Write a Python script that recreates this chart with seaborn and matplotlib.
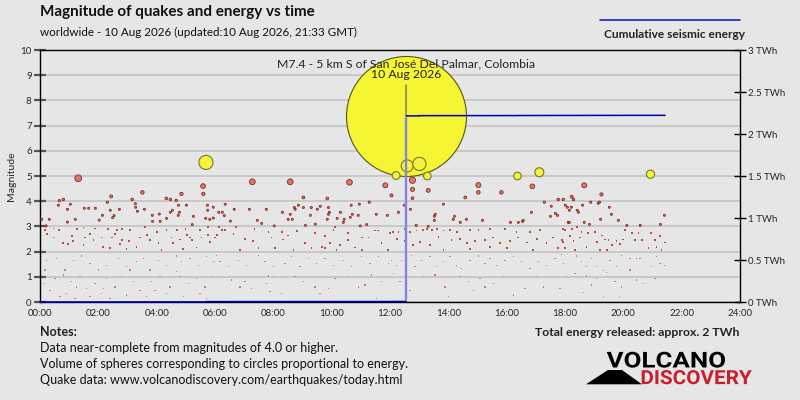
import numpy as np
import matplotlib
matplotlib.use("Agg")
import matplotlib.pyplot as plt
import seaborn as sns
from matplotlib.lines import Line2D
from matplotlib.patches import Polygon, PathPatch
from matplotlib.textpath import TextPath
from matplotlib.font_manager import FontProperties
from matplotlib.transforms import Affine2D, IdentityTransform

# strongest quake of the day
main_hour = 12.55
main_mag = 7.4
main_label = "M7.4 - 5 km S of San José Del Palmar, Colombia\n10 Aug 2026"

# M5+ quakes (yellow circles)
strong_hours = [5.69, 12.59, 13.01, 12.21, 13.28, 16.37, 17.12, 20.93]
strong_mags = [5.54, 5.40, 5.48, 5.02, 5.00, 5.00, 5.15, 5.07]

# M3 - M5 quakes (red circles)
mid_hours = [
    1.31, 5.59, 5.60, 3.51, 2.44, 4.85, 0.66, 0.80, 0.63, 1.04, 0.94, 2.31, 3.16, 3.27,
    3.28, 3.34, 1.52, 1.67, 1.90, 2.41, 2.72, 2.54, 2.49, 2.14, 2.03, 1.21, 0.94, 3.58,
    4.33, 4.47, 4.67, 4.75, 5.02, 4.54, 4.47, 4.78, 4.74, 3.85, 4.09, 4.34, 3.86, 4.12,
    5.26, 5.22, 5.74, 5.75, 5.94, 6.13, 5.68, 5.82, 5.94, 0.06, 0.32, 0.21,
    7.28, 8.58, 10.61, 11.84, 12.05, 9.03, 9.85, 6.35, 6.66, 7.18, 7.76, 6.25, 6.32,
    6.53, 7.45, 7.60, 8.31, 8.58, 8.51, 8.65, 8.72, 8.75, 8.86, 9.03, 9.30, 9.51, 9.61,
    9.89, 9.92, 9.89, 9.27, 9.85, 10.30, 10.19, 10.43, 10.40, 10.64, 10.71, 10.91,
    10.67, 10.95, 11.29, 11.53, 11.91, 8.03, 9.10, 9.44, 10.98, 11.20,
    12.77, 12.77, 12.77, 13.31, 15.03, 15.03, 15.82, 16.88, 14.58, 12.49, 13.83, 12.29,
    12.70, 17.29, 17.53, 17.77, 17.94, 18.01, 18.08, 17.67, 17.74, 17.50, 16.85, 13.55,
    13.52, 14.21, 13.52, 14.17, 14.62, 14.41, 15.17, 16.13, 16.40, 16.54, 16.57, 18.11,
    12.90, 13.31,
    18.66, 19.25, 18.23, 18.29, 18.60, 18.88, 19.18, 19.14, 18.22, 18.15, 18.42, 18.46,
    19.52, 19.59, 21.41, 19.22, 19.83, 20.12, 20.58, 21.27, 18.66, 18.84, 18.15,
]
mid_mags = [
    4.91, 4.60, 4.29, 4.35, 4.19, 4.29, 4.02, 4.07, 3.84, 3.88, 3.68, 3.96, 4.07, 3.90,
    3.76, 3.60, 3.72, 3.72, 3.72, 3.64, 3.68, 3.43, 3.35, 3.44, 3.25, 3.28, 3.17, 3.68,
    4.11, 4.07, 4.03, 3.84, 3.84, 3.64, 3.56, 3.56, 3.44, 3.44, 3.49, 3.32, 3.20, 3.20,
    3.40, 3.07, 3.84, 3.64, 3.76, 3.56, 3.32, 3.28, 3.33, 3.28, 3.28, 3.02,
    4.77, 4.77, 4.75, 4.63, 4.23, 4.15, 4.11, 3.88, 3.68, 3.68, 3.68, 3.56, 3.43,
    3.21, 3.24, 3.12, 3.56, 3.48, 3.28, 3.28, 3.75, 3.68, 3.84, 3.75, 3.75, 3.68, 3.80,
    3.75, 3.56, 3.48, 3.44, 3.28, 3.56, 3.32, 3.28, 3.16, 3.36, 3.48, 3.44,
    3.84, 3.88, 3.96, 3.48, 3.44, 3.02, 3.04, 3.09, 3.02, 3.07,
    4.83, 4.47, 4.12, 4.43, 4.64, 4.35, 4.35, 4.59, 4.15, 3.84, 3.88, 3.56,
    3.68, 3.96, 3.80, 4.07, 4.07, 3.84, 3.76, 3.52, 3.44, 3.40, 3.56, 3.48,
    3.40, 3.40, 3.24, 3.28, 3.28, 3.16, 3.24, 3.16, 3.16, 3.20, 3.24, 3.16,
    3.04, 3.00,
    4.63, 4.27, 4.18, 4.07, 3.84, 3.96, 3.96, 3.92, 3.76, 3.64, 3.64, 3.56,
    3.76, 3.48, 3.44, 3.28, 3.24, 3.04, 3.04, 3.08, 3.16, 3.08, 3.16,
]

# quakes below M3 (small dots)
small_hours = [
    0.17, 0.46, 0.66, 1.28, 1.49, 1.89, 2.34, 2.65, 2.80, 3.09, 3.60, 4.00, 4.34, 4.69,
    4.99, 5.49, 5.77, 1.54, 1.83, 2.11, 2.46, 2.80, 3.06, 3.43, 3.77, 4.06, 4.51, 4.80,
    5.14, 5.54, 5.83, 0.80, 1.14, 1.49, 2.17, 2.40, 2.97, 3.31, 4.17, 4.91, 5.20, 5.37,
    6.00, 0.46, 0.97, 2.74, 4.57, 0.23, 1.09, 1.71, 2.57, 3.66, 5.03, 5.77,
    0.06, 0.23, 0.57, 0.86, 1.14, 1.43, 1.71, 2.00, 2.29, 2.69, 2.97, 3.31, 3.54, 3.77,
    4.06, 4.34, 4.69, 4.86, 5.14, 5.43, 5.71, 5.94, 0.17, 0.51, 0.80, 1.09, 1.37, 1.60,
    1.89, 2.29, 2.57, 2.80, 3.20, 3.43, 3.83, 4.11, 4.46, 4.80, 5.09, 5.37, 5.66, 5.89,
    0.34, 0.69, 0.91, 1.20, 1.71, 2.11, 2.40, 2.97, 3.66, 4.34, 4.91, 5.71, 0.11, 1.26,
    2.17, 3.09, 3.94, 4.69, 5.49,
    6.14, 6.25, 6.34, 6.71, 7.35, 7.83, 8.29, 8.51, 8.80, 9.43, 9.77, 10.06, 10.11,
    10.57, 11.03, 11.49, 11.60, 12.00, 6.06, 6.63, 7.03, 7.31, 7.94, 8.34, 9.09, 9.66,
    9.94, 10.29, 10.57, 10.80, 11.26, 11.71, 6.86, 7.49, 8.06, 8.69, 9.31, 9.77, 10.17,
    11.03, 11.94, 6.06, 6.17, 6.46, 6.80, 7.09, 7.49, 7.71, 8.00, 8.40, 8.63, 8.91, 9.20,
    9.49, 9.77, 10.06, 10.40, 10.69, 11.03, 11.31, 11.60, 11.94, 6.57, 6.86, 7.03, 7.83,
    8.00, 7.77, 7.89, 8.74, 9.03, 9.43, 9.89, 10.11, 10.57, 10.91, 11.14, 11.37, 11.71,
    11.54, 9.60, 8.29, 7.26,
    12.11, 12.29, 12.51, 12.69, 12.91, 13.14, 13.26, 13.43, 13.60, 13.83, 14.06, 14.29,
    14.74, 15.03, 15.43, 15.94, 16.34, 16.80, 17.14, 18.00, 12.23, 12.51, 12.80, 13.03,
    13.37, 13.66, 14.11, 14.40, 14.63, 14.91, 15.26, 15.54, 15.77, 16.11, 16.40, 16.69,
    17.03, 17.37, 17.60, 17.94, 13.83, 14.74, 15.43, 16.00, 16.91, 17.77, 12.06, 12.23,
    12.40, 12.74, 12.86, 13.09, 13.37, 13.60, 13.83, 14.06, 14.29, 14.46, 14.74, 15.03,
    15.26, 15.43, 15.66, 15.94, 16.23, 16.51, 16.80, 17.09, 17.37, 17.66, 17.94, 12.11,
    12.34, 13.14, 13.54, 13.89, 14.00, 14.40, 14.69, 15.09, 15.26, 15.54, 15.89, 16.23,
    16.63, 17.03, 17.26, 17.83, 18.06, 12.69, 14.86,
    17.94, 18.23, 18.40, 18.57, 18.80, 19.03, 19.26, 19.49, 19.77, 20.06, 20.29, 20.52,
    20.63, 20.94, 21.09, 21.26, 21.43, 17.89, 18.17, 18.29, 18.52, 18.74, 19.09, 19.37,
    19.60, 19.89, 20.00, 20.40, 20.86, 21.14, 21.31, 18.00, 18.34, 19.20, 19.43, 17.89,
    18.40, 18.57, 18.74, 18.91, 19.09, 19.31, 19.54, 19.77, 19.94, 20.23, 20.46, 20.57,
    20.97, 21.14, 21.26, 21.40, 18.34, 18.74, 19.09, 19.43, 19.71, 19.94, 20.23, 20.46,
    20.69, 21.09, 18.06, 17.83, 18.63, 18.91, 19.31, 19.86,
]
small_mags = [
    2.86, 2.92, 2.86, 2.89, 2.96, 2.92, 2.91, 2.86, 2.89, 2.86, 2.99, 2.79, 2.86, 2.86,
    2.89, 2.86, 2.99, 2.56, 2.46, 2.56, 2.56, 2.46, 2.43, 2.56, 2.46, 2.33, 2.56, 2.48,
    2.56, 2.56, 2.39, 2.33, 2.43, 2.26, 2.19, 2.13, 2.09, 2.19, 2.06, 2.09, 2.46, 2.16,
    2.56, 2.56, 2.30, 2.30, 2.33, 2.71, 2.61, 2.71, 2.71, 2.65, 2.65, 2.65,
    1.80, 1.66, 1.73, 1.27, 1.66, 1.82, 1.53, 1.27, 1.46, 1.73, 1.40, 1.60, 1.73, 1.27,
    1.66, 1.46, 1.82, 1.60, 1.73, 1.46, 1.80, 1.60, 1.27, 0.93, 1.07, 0.80, 1.00, 0.54,
    0.74, 0.93, 0.60, 1.00, 0.80, 0.47, 0.80, 1.00, 0.60, 1.00, 0.74, 0.93, 0.60, 1.00,
    0.47, 0.21, 0.34, 0.14, 0.21, 0.34, 0.14, 0.28, 0.21, 0.34, 0.21, 0.14, 0.74, 0.60,
    0.54, 1.27, 0.47, 1.20, 0.34,
    2.97, 2.86, 2.86, 2.97, 2.89, 2.78, 2.78, 2.64, 2.82, 2.75, 2.61, 2.86, 2.97,
    2.75, 2.56, 2.84, 2.84, 2.75, 2.65, 2.69, 2.51, 2.43, 2.56, 2.48, 2.33, 2.19,
    2.33, 2.26, 2.46, 2.16, 2.56, 2.33, 2.06, 2.13, 2.13, 2.06, 2.13, 2.13, 2.06,
    2.06, 2.06, 1.84, 1.60, 1.40, 1.66, 1.46, 1.84, 1.60, 1.40, 1.53, 1.80, 1.40, 1.73,
    1.53, 1.73, 1.46, 1.66, 1.40, 1.80, 1.53, 1.80, 1.53, 0.87, 0.60, 0.80, 1.03,
    1.00, 0.74, 0.41, 1.00, 0.80, 0.60, 0.54, 0.93, 1.00, 0.60, 0.67, 1.07, 0.80,
    0.14, 0.34, 0.34, 0.54,
    2.79, 2.79, 2.89, 2.79, 2.84, 2.86, 2.89, 2.86, 2.91, 2.84, 2.86, 2.79,
    2.86, 2.86, 2.89, 2.89, 2.79, 2.79, 2.86, 2.86, 2.51, 2.43, 2.26, 2.39,
    2.26, 2.57, 2.46, 2.51, 2.33, 2.43, 2.46, 2.56, 2.33, 2.43, 2.56, 2.36,
    2.51, 2.33, 2.56, 2.39, 2.06, 2.09, 2.19, 2.13, 2.06, 2.13, 1.66, 1.46,
    1.66, 1.84, 1.40, 1.66, 1.80, 1.40, 1.60, 1.80, 1.46, 1.33, 1.66, 1.82,
    1.53, 1.73, 1.46, 1.66, 1.80, 1.60, 1.33, 1.60, 1.46, 1.73, 1.53, 1.13,
    0.80, 1.00, 1.07, 0.60, 0.21, 1.00, 0.80, 0.93, 0.60, 0.74, 1.00, 0.28,
    0.54, 1.00, 0.60, 0.54, 1.00, 0.47, 0.47,
    2.89, 2.89, 2.97, 2.79, 2.75, 2.79, 2.64, 2.46, 2.43, 2.86, 2.75, 2.75,
    2.46, 2.75, 2.46, 2.61, 2.36, 2.46, 2.61, 2.43, 2.56, 2.19, 2.39, 2.48,
    2.26, 2.30, 2.48, 2.46, 2.13, 2.19, 2.06, 2.13, 2.06, 2.06, 2.06, 1.89,
    1.82, 1.60, 1.40, 1.73, 1.40, 1.24, 1.66, 1.40, 1.84, 1.73, 1.73, 1.73,
    1.40, 1.80, 1.53, 1.46, 1.13, 1.03, 0.93, 1.16, 0.80, 0.60, 1.27, 0.87,
    0.74, 0.93, 1.00, 0.54, 0.37, 0.67, 0.21, 0.21,
]

x_ticks = np.arange(0, 25, 2)
x_labels = [f"{h:02d}:00" for h in x_ticks]
energy_ticks = np.arange(0, 3.01, 0.5)

BG = "#e6e6e6"
sns.set_style("white")
plt.rcParams["font.family"] = ["Lato", "DejaVu Sans"]


def radius_px(mags, floor):
    # circle volume proportional to energy -> radius ~ 10^(0.5 M), M7.4 = 60 px
    r = 60 * 10 ** (0.5 * (np.asarray(mags, dtype=float) - main_mag))
    return np.maximum(r, floor)


def area_pt(r):
    return (2 * r * 0.72) ** 2


def logo_word(fig, word, box, color):
    # squeeze a bold word into a pixel box (x0, y0, x1, y1), origin bottom-left
    tp = TextPath((0, 0), word, size=20, prop=FontProperties(family="Roboto", weight="bold"))
    ext = tp.get_extents()
    tr = (Affine2D().translate(-ext.x0, -ext.y0)
          .scale((box[2] - box[0]) / ext.width, (box[3] - box[1]) / ext.height)
          .translate(box[0], box[1]))
    fig.add_artist(PathPatch(tr.transform_path(tp), facecolor=color, edgecolor="none",
                             transform=IdentityTransform()))


fig = plt.figure(figsize=(8, 4), dpi=100, facecolor=BG)
ax = fig.add_axes([0.05, 0.245, 0.875, 0.63])
ax.set_facecolor(BG)

# small quakes
small_h = np.array(small_hours)
small_m = np.array(small_mags)
upper = small_m >= 2
sns.scatterplot(x=small_h[upper], y=small_m[upper], s=area_pt(radius_px(small_m[upper], 0.85)),
                marker="s", color="#b9503c", linewidth=0, ax=ax, zorder=3, legend=False)
sns.scatterplot(x=small_h[~upper], y=small_m[~upper], s=area_pt(radius_px(small_m[~upper], 0.65)),
                marker="s", color="#d27d6c", linewidth=0, ax=ax, zorder=3, legend=False)

# the main shock
sns.scatterplot(x=[main_hour], y=[main_mag], s=area_pt(radius_px([main_mag], 1)),
                color="#f5f533", edgecolor="#55551e", linewidth=0.8, ax=ax, zorder=4, legend=False)

# M3-5
sns.scatterplot(x=mid_hours, y=mid_mags, s=area_pt(radius_px(mid_mags, 1.05)),
                color="#dc7867", edgecolor="#7a2216", linewidth=0.55, ax=ax, zorder=5, legend=False)

# M5+
sns.scatterplot(x=strong_hours, y=strong_mags, s=area_pt(radius_px(strong_mags, 2)),
                color="#f3f340", edgecolor="#77772a", linewidth=0.8, ax=ax, zorder=6, legend=False)

ax.annotate(main_label, xy=(main_hour, main_mag), xytext=(main_hour, 8.8),
            ha="center", va="bottom", fontsize=8.8, color="#222222", linespacing=0.95,
            arrowprops=dict(arrowstyle="-", color="#555555", lw=0.8, shrinkA=1, shrinkB=0),
            zorder=7)

ax.set_xlim(0, 24)
ax.set_ylim(0, 10)
ax.set_xticks(x_ticks)
ax.set_xticklabels(x_labels)
ax.set_xticks(np.arange(1, 24, 2), minor=True)
ax.set_yticks(range(0, 11))
ax.tick_params(axis="x", which="major", direction="inout", length=8, width=1, color="black",
               labelsize=7, pad=1)
ax.tick_params(axis="x", which="minor", direction="inout", length=8, width=1.6, color="#666666")
ax.tick_params(axis="y", direction="inout", length=8, width=1.6, color="#555555",
               labelsize=7, pad=2)
ax.yaxis.grid(True, color="#c6c6c6", lw=1.3)
ax.set_axisbelow(True)
ax.set_ylabel("Magnitude", fontsize=7.5, labelpad=3)
ax.set_xlabel("")
for side in ["left", "right", "top", "bottom"]:
    ax.spines[side].set_color("black")
    ax.spines[side].set_linewidth(1)

# cumulative energy on the right axis
all_h = np.r_[small_hours, mid_hours, strong_hours, main_hour]
all_m = np.r_[small_mags, mid_mags, strong_mags, main_mag]
order = np.argsort(all_h)
energy_twh = 10 ** (1.5 * all_m[order] + 4.8) / 3.6e15
cum_energy = np.cumsum(energy_twh)
jump = np.searchsorted(all_h[order], main_hour)

ax2 = ax.twinx()
ax2.plot(np.r_[0, all_h[order]], np.r_[0, cum_energy], drawstyle="steps-post",
         color="#0000b4", lw=1.1, zorder=8, clip_on=False)
ax2.vlines(main_hour, cum_energy[jump - 1], cum_energy[jump], color="#8484e2", lw=1.7, zorder=9)
ax2.set_ylim(0, 3)
ax2.set_yticks(energy_ticks)
ax2.set_yticklabels([f"{v:g} TWh" for v in energy_ticks])
ax2.tick_params(axis="y", direction="inout", length=8, width=1, color="black",
                labelsize=7, pad=2)
for side in ["left", "right", "top", "bottom"]:
    ax2.spines[side].set_visible(False)

# header
fig.text(0.05, 0.97, "Magnitude of quakes and energy vs time", fontsize=11,
         fontweight="bold", va="center", ha="left", color="#111111")
fig.text(0.05, 0.92, "worldwide - 10 Aug 2026 (updated:10 Aug 2026, 21:33 GMT)",
         fontsize=8.4, va="center", ha="left", color="#111111")
fig.add_artist(Line2D([0.75, 0.925], [0.951, 0.951], color="#1c1cd0", lw=1.2))
fig.text(0.931, 0.915, "Cumulative seismic energy", fontsize=8.6, fontweight="bold",
         va="center", ha="right", color="#222222")

# notes
fig.text(0.05, 0.17, "Notes:", fontsize=9, fontweight="bold", va="center", color="#222222")
notes = [
    "Data near-complete from magnitudes of 4.0 or higher.",
    "Volume of spheres corresponding to circles proportional to energy.",
    "Quake data: www.volcanodiscovery.com/earthquakes/today.html",
]
for i, line in enumerate(notes):
    fig.text(0.05, 0.13 - i * 0.04, line, fontsize=9, va="center", color="#111111")
fig.text(0.924, 0.17, "Total energy released: approx. 2 TWh", fontsize=8.8,
         fontweight="bold", va="center", ha="right", color="#222222")

# logo
fig.add_artist(Polygon([[586, 15.7], [642, 15.7], [622, 30], [608, 30]], closed=True,
                       facecolor="black", edgecolor="none", transform=IdentityTransform()))
logo_word(fig, "VOLCANO", (606.7, 32.3, 725, 48.3), "black")
logo_word(fig, "DISCOVERY", (641.7, 15.7, 751.7, 30), "#c81f2b")

fig.savefig("out.png", dpi=100, facecolor=BG)
